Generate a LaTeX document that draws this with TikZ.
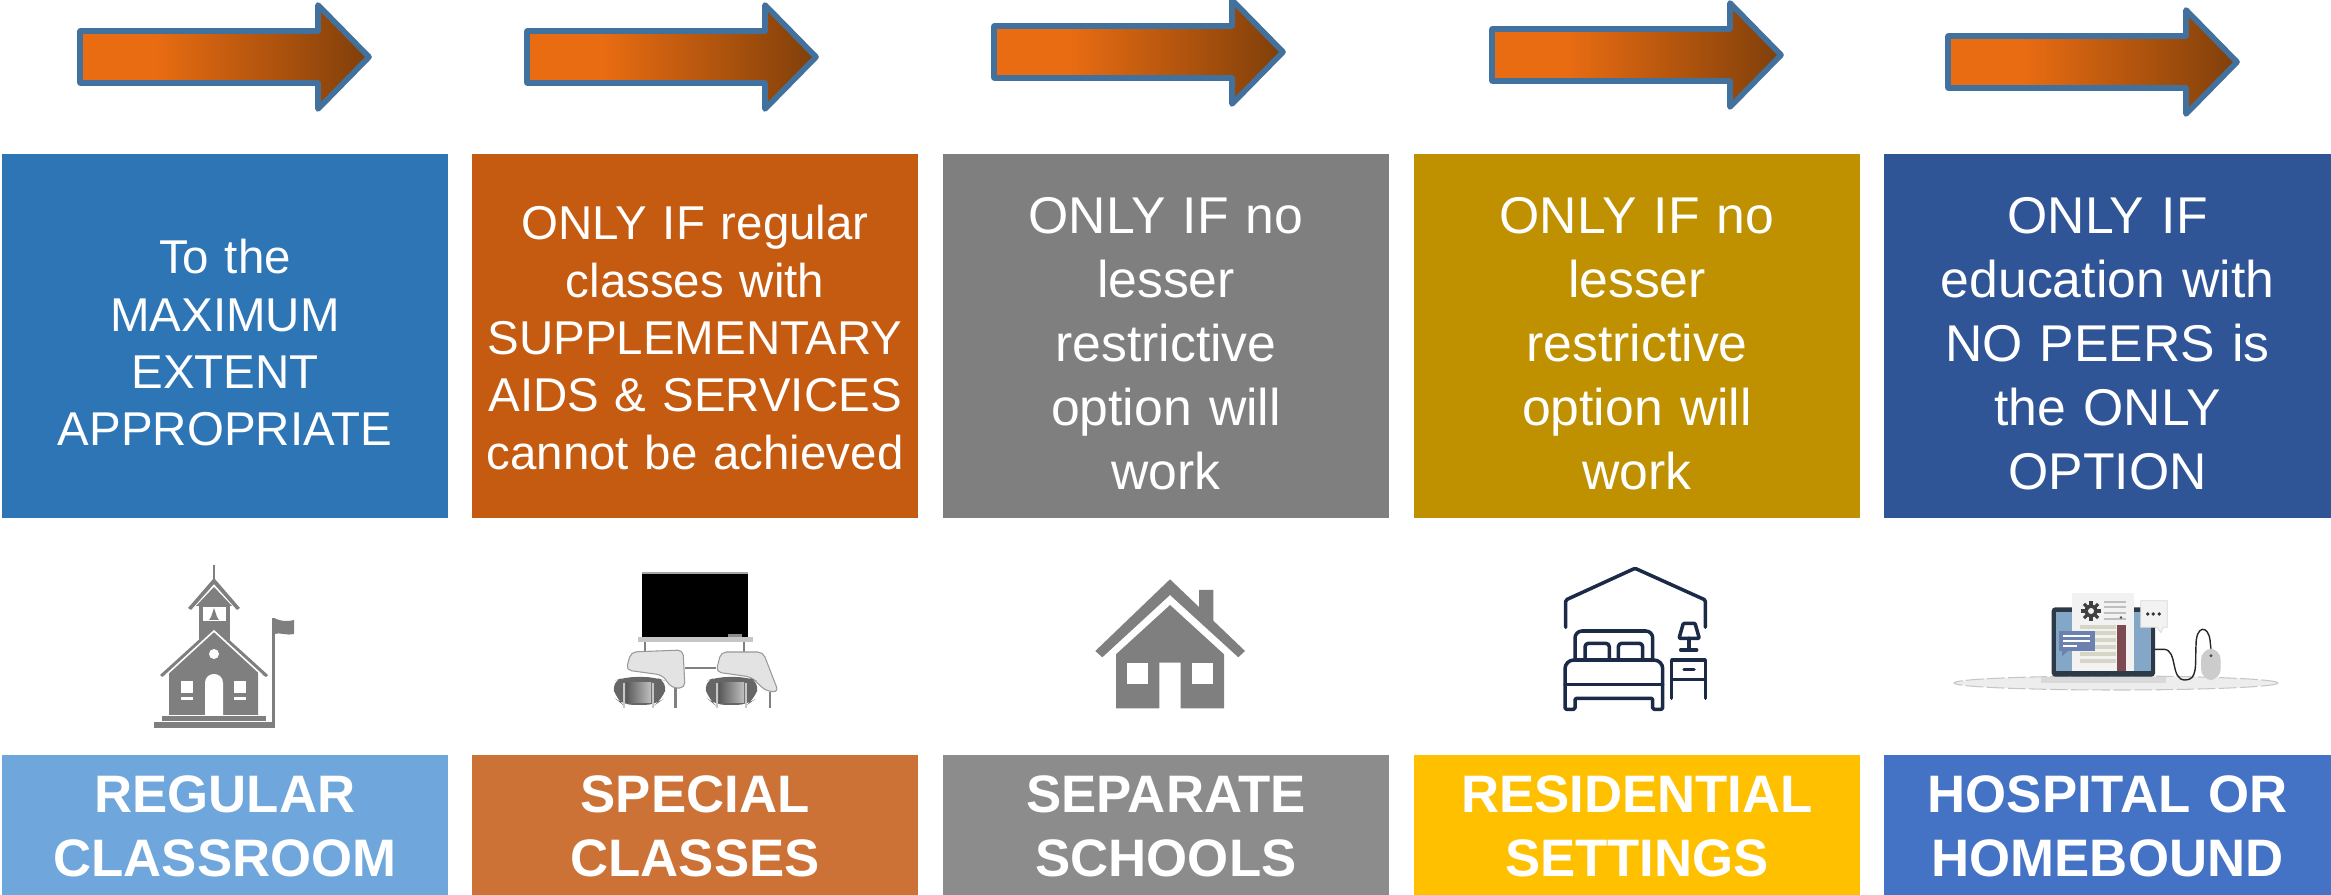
\documentclass[tikz,border=0pt]{standalone}
\usepackage{fontspec}
\setmainfont{Liberation Sans}
\definecolor{arrowOrange}{HTML}{E96C12}
\definecolor{arrowDark}{HTML}{7F3F0A}
\definecolor{arrowEdge}{HTML}{41719C}
\definecolor{boxA}{HTML}{2E75B6}
\definecolor{boxB}{HTML}{C55A11}
\definecolor{boxC}{HTML}{7F7F7F}
\definecolor{boxD}{HTML}{BF9000}
\definecolor{boxE}{HTML}{2F5597}
\definecolor{labA}{HTML}{6FA6DC}
\definecolor{labB}{HTML}{CC7237}
\definecolor{labC}{HTML}{8C8C8C}
\definecolor{labD}{HTML}{FFC000}
\definecolor{labE}{HTML}{4472C4}
\definecolor{iconGray}{HTML}{7F7F7F}
\definecolor{bedNavy}{HTML}{1B2A47}
\definecolor{lapFrame}{HTML}{2C3A47}
\definecolor{lapScreen}{HTML}{84A7C7}
\definecolor{lapNote}{HTML}{6B82B0}
\definecolor{lapBar}{HTML}{7C4A50}
\definecolor{lapPaper}{HTML}{F2F2F2}
\definecolor{lapLine}{HTML}{D6D6C6}
\pgfdeclarehorizontalshading{arrowgrad}{100bp}{color(0bp)=(arrowOrange); color(25bp)=(arrowOrange); color(38bp)=(arrowOrange); color(75bp)=(arrowDark); color(100bp)=(arrowDark)}
\tikzset{
  x=0.01cm,y=-0.01cm,
  descbox/.style={fill=#1,draw=none,text=white,align=center,inner sep=0pt,minimum width=4.46cm,minimum height=3.64cm,text width=4.46cm,font=\fontsize{14.7}{18.2}\selectfont},
  labelbox/.style={fill=#1,draw=none,text=white,align=center,inner sep=0pt,minimum width=4.46cm,minimum height=1.40cm,text width=4.46cm,font=\fontsize{15}{18.2}\selectfont\bfseries},
  bigarrow/.style={shading=arrowgrad,draw=arrowEdge,line width=1.6pt,line join=round},
  bedline/.style={draw=bedNavy,line width=1pt,line cap=round,line join=round,rounded corners=1pt},
}
\newcommand{\bigarrowat}[2]{%
  \path[bigarrow] (#1,#2-26) -- (#1+238,#2-26) -- (#1+238,#2-52) -- (#1+289,#2) -- (#1+238,#2+52) -- (#1+238,#2+26) -- (#1,#2+26) -- cycle;}
\newcommand{\liftline}[1]{\rule{0pt}{#1pt}}
\begin{document}
\begin{tikzpicture}
\useasboundingbox (0,0) rectangle (2331,895);
% arrows
\bigarrowat{80}{57}
\bigarrowat{527}{57}
\bigarrowat{994}{52}
\bigarrowat{1492}{55}
\bigarrowat{1948}{62}
% description boxes
\node[descbox=boxA,font=\fontsize{13.5}{16.3}\selectfont] (d1) at (225,336) {\liftline{13.7}To the\\MAXIMUM\\EXTENT\\APPROPRIATE};
\node[descbox=boxB,font=\fontsize{13.5}{16.3}\selectfont] (d2) at (695,336) {\liftline{10.6}ONLY IF regular\\classes with\\SUPPLEMENTARY\\AIDS \& SERVICES\\cannot be achieved};
\node[descbox=boxC] (d3) at (1166,336) {\liftline{14.8}ONLY IF no\\lesser\\restrictive\\option will\\work};
\node[descbox=boxD] (d4) at (1637,336) {\liftline{14.8}ONLY IF no\\lesser\\restrictive\\option will\\work};
\node[descbox=boxE,minimum width=4.47cm] (d5) at (2107.5,336) {\liftline{14.8}ONLY IF\\education with\\NO PEERS is\\the ONLY\\OPTION};
% label boxes
\node[labelbox=labA] (l1) at (225,825) {\liftline{11}REGULAR\\CLASSROOM};
\node[labelbox=labB] (l2) at (695,825) {\liftline{11}SPECIAL\\CLASSES};
\node[labelbox=labC] (l3) at (1166,825) {\liftline{11}SEPARATE\\SCHOOLS};
\node[labelbox=labD] (l4) at (1637,825) {\liftline{11}RESIDENTIAL\\SETTINGS};
\node[labelbox=labE,minimum width=4.47cm] (l5) at (2107.5,825) {\liftline{11}HOSPITAL OR\\HOMEBOUND};
% school icon
\fill[iconGray] (154,722) rectangle (275,728);
\fill[iconGray] (162,716) rectangle (266,721);
\fill[iconGray] (169,715) -- (169,672) -- (162,677) -- (160,675) -- (214,626) -- (268,675) -- (266,677) -- (258,672) -- (258,715) -- cycle;
\fill[iconGray] (199,640) rectangle (230,604);
\fill[iconGray] (188,608) -- (214,578) -- (240,608) -- (237,610) -- (214,584) -- (191,610) -- cycle;
\fill[iconGray] (196,606) -- (214,587) -- (232,606) -- cycle;
\draw[iconGray,line width=0.6pt] (214,565) -- (214,581);
\fill[white] (203,607) rectangle (226,621);
\fill[iconGray] (214,608) -- (217,617) -- (219,620) -- (209,620) -- (211,617) -- cycle;
\draw[white,line width=0.45pt] (166,675) -- (214,631) -- (262,675);
\fill[white] (214,654) ellipse (5 and 5);
\fill[white] (205,715) -- (205,683) .. controls (205,671) and (223,671) .. (223,683) -- (223,715) -- cycle;
\fill[white] (181,681) rectangle (193,693);
\fill[white] (181,697) rectangle (193,700);
\fill[white] (234,681) rectangle (246,693);
\fill[white] (234,697) rectangle (246,700);
\fill[iconGray] (272,618) rectangle (274.5,728);
\fill[iconGray] (274,618) .. controls (280,621) and (286,622) .. (294,620) -- (294,634) .. controls (287,636) and (280,632) .. (274,634) -- cycle;
% classroom icon
\fill[black] (642,573) rectangle (748,637);
\draw[gray!70,line width=0.5pt] (642,573) -- (748,573);
\fill[gray!45] (638,637) rectangle (753,642);
\fill[gray!90] (728,634) rectangle (742,637);
\draw[gray,line width=0.8pt] (645,642) -- (645,652) (744,642) -- (744,652);
\draw[gray,line width=0.8pt] (685,668) -- (716,668);
\draw[gray,line width=0.8pt] (675.6,688) -- (675.6,708) (770,692) -- (770,708);
\filldraw[fill=gray!22,draw=gray!80,line width=0.3pt,rounded corners=1.5pt] (631,652) -- (683,650) -- (685,688) -- (672,688) -- (662,675) -- (626,670) -- cycle;
\filldraw[fill=gray!22,draw=gray!80,line width=0.3pt,rounded corners=1.5pt] (721,652) -- (763,652) -- (778.5,692) -- (766,691) -- (751,677) -- (716,672) -- cycle;
\fill[black!60,rounded corners=3pt] (611,682) -- (625,677) -- (655,677) -- (668,682) -- (662,700) -- (655,705) -- (623,705) -- (617,700) -- cycle;
\fill[black!60,rounded corners=3pt] (703,682) -- (717,677) -- (747,677) -- (760,682) -- (754,700) -- (747,705) -- (715,705) -- (709,700) -- cycle;
\shade[left color=black!65,right color=black!25] (626,683) rectangle (651,703);
\shade[left color=black!65,right color=black!25] (719,683) rectangle (744,703);
\draw[gray!45,line width=0.8pt] (624,683) -- (624,708) (653,683) -- (653,708) (717,683) -- (717,708) (746,683) -- (746,708);
% house icon
\fill[iconGray] (1199,608) -- (1199,590) -- (1213.3,590) -- (1213.3,622) -- cycle;
\fill[iconGray] (1095.3,651) -- (1170,579.3) -- (1245,651) -- (1238.3,657.3) -- (1170,595) -- (1102.3,657.3) -- cycle;
\fill[iconGray] (1116,654.3) -- (1170,605) -- (1224,654.3) -- (1224,708.3) -- (1180.7,708.3) -- (1180.7,662.7) -- (1159.3,662.7) -- (1159.3,708.3) -- (1116,708.3) -- cycle;
\fill[white] (1127.3,663.3) rectangle (1148.3,684.3);
\fill[white] (1192,663.3) rectangle (1213.3,684.3);
% bedroom icon
\draw[bedline,rounded corners=0.4pt] (1565.7,627.3) -- (1565.7,600) -- (1635,568.3) -- (1705.3,600) -- (1705.3,627.3);
\draw[bedline,rounded corners=2pt] (1575,658.3) -- (1575,631) -- (1652.7,631) -- (1652.7,658.3);
\draw[bedline] (1585,658.3) -- (1585,643.3) -- (1609.3,643.3) -- (1609.3,658.3);
\draw[bedline] (1618.3,658.3) -- (1618.3,643.3) -- (1642.7,643.3) -- (1642.7,658.3);
\draw[bedline,rounded corners=2.5pt] (1565,684) -- (1565,660) -- (1662.7,660) -- (1662.7,684);
\draw[bedline,rounded corners=0pt] (1565,684.3) -- (1662.7,684.3);
\draw[bedline,rounded corners=0.4pt] (1565,684.3) -- (1565,709.3) -- (1575,709.3) -- (1575,698.3) -- (1652.7,698.3) -- (1652.7,709.3) -- (1662.7,709.3) -- (1662.7,684.3);
\draw[bedline,rounded corners=0pt] (1671.7,698.3) -- (1671.7,660) -- (1705.3,660) -- (1705.3,698.3);
\draw[bedline] (1671.7,679.3) -- (1705.3,679.3);
\draw[bedline] (1684,669.3) -- (1694,669.3);
\draw[bedline,rounded corners=0.3pt] (1683.3,623.3) -- (1695,623.3) -- (1699.3,638.3) -- (1679,638.3) -- cycle;
\draw[bedline] (1689,638.3) -- (1689,650);
\draw[bedline] (1680.7,650) -- (1696.7,650);
% laptop icon
\filldraw[fill=gray!14,draw=gray!45,line width=0.3pt,dash pattern=on 5pt off 1pt] (2116,683) ellipse (162 and 7);
\fill[gray!30] (2041,677) rectangle (2166,683);
\fill[lapFrame,rounded corners=1pt] (2051.7,607.3) rectangle (2155,676.7);
\fill[lapScreen] (2056,611.7) rectangle (2150.7,671);
\fill[lapPaper] (2071.7,592.7) rectangle (2134,671);
\foreach \yy in {602,607,613,619} \draw[gray!50,line width=0.6pt] (2104,\yy) -- (2126,\yy);
\foreach \yy in {627,633,640,647,654,661} \draw[lapLine,line width=0.9pt] (2080,\yy) -- (2116,\yy);
\fill[black!75] (2091,611) circle (6.5);
\foreach \aa in {0,45,...,315} \draw[black!75,line width=0.9pt] (2091,611) -- ++(\aa:10);
\fill[lapPaper] (2091,611) circle (3);
\fill[lapBar] (2117.3,625) rectangle (2126,671);
\fill[black!70] (2121,617.5) circle (1.4);
\fill[lapNote] (2059.3,631) rectangle (2095,651);
\fill[lapNote] (2062,651) -- (2062,656) -- (2068,651) -- cycle;
\foreach \yy/\xe in {636/2090,641/2090,646/2077} \draw[white,line width=0.6pt] (2063,\yy) -- (\xe,\yy);
\filldraw[fill=lapPaper,draw=gray!30,line width=0.2pt] (2140.7,600.7) -- (2167.3,600.7) -- (2167.3,627.3) -- (2163,627.3) -- (2161,632.7) -- (2156.7,627.3) -- (2140.7,627.3) -- cycle;
\foreach \xx in {2147.7,2153.3,2159.3} \fill[black!80] (\xx,614) circle (1.9);
\draw[gray!30!black,line width=0.4pt] (2155,649.3) -- (2164,649.3) .. controls (2178,650) and (2170,680) .. (2185,680) .. controls (2198,680) and (2195,665) .. (2196,645) .. controls (2196,625) and (2208,625) .. (2210,640) -- (2211,650);
\filldraw[fill=gray!40,draw=gray!40,rounded corners=3pt] (2201.7,649.3) rectangle (2220,679.3);
\fill[black!70] (2211,655.7) circle (1.6);
\end{tikzpicture}
\end{document}
